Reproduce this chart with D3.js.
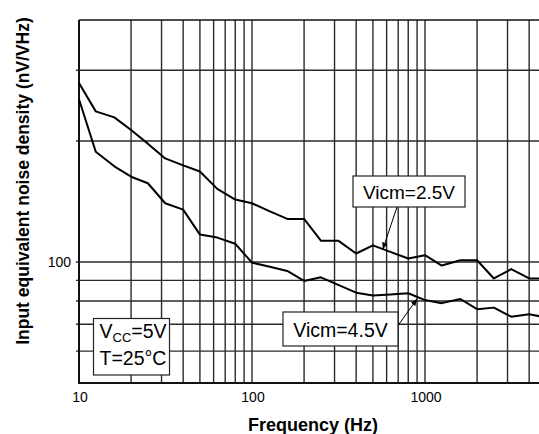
<!DOCTYPE html>
<html>
<head>
<meta charset="utf-8">
<script src="https://cdn.jsdelivr.net/npm/d3@7/dist/d3.min.js"></script>
<style>
  html, body { margin: 0; padding: 0; background: #fff; }
  svg { display: block; font-family: "Liberation Sans", Arial, sans-serif; }
</style>
</head>
<body>
<svg id="chart" width="539" height="434"></svg>
<script>
// 1/3-octave measurement frequencies (Hz)
var freqs = [10, 12.5, 16, 20, 25, 31.5, 40, 50, 63, 80, 100, 125, 160, 200, 250, 315,
             400, 500, 630, 800, 1000, 1250, 1600, 2000, 2500, 3150, 4000, 5000];

// noise density, nV/sqrt(Hz)
var vicm25 = [279, 237, 229, 213, 197, 181, 174, 168, 152, 143, 140, 134, 128, 128, 113, 113,
              105, 110, 106, 102, 104, 98, 101, 101, 91, 96, 91, 91];
var vicm45 = [254, 188, 173, 163, 157, 140, 135, 117, 115, 111, 99.6, 97.5, 95, 89.7, 91.6, 87.7,
              83.9, 82.5, 83, 83.6, 80.4, 79, 80.9, 76.3, 77, 73.1, 74.1, 72.8];

var xGrid = [20, 30, 40, 50, 60, 70, 80, 90, 100, 200, 300, 400, 500, 600, 700, 800, 900,
             1000, 2000, 3000, 4000, 5000, 6000, 7000, 8000, 9000];
var yGrid = [60, 70, 80, 90, 100, 200, 300];
var xTickLabels = [10, 100, 1000];
var yTickLabels = [100];

var svg = d3.select('#chart'),
    plot = { left: 79, top: 20, right: 598, bottom: 383 };

var x = d3.scaleLog().domain([10, 10000]).range([plot.left, plot.right]);
var y = d3.scaleLog().domain([50, 400]).range([plot.bottom, plot.top]);

var defs = svg.append('defs');
defs.append('marker')
    .attr('id', 'arrow')
    .attr('viewBox', '0 0 10 10')
    .attr('refX', 10).attr('refY', 5)
    .attr('markerWidth', 7).attr('markerHeight', 7)
    .attr('markerUnits', 'userSpaceOnUse')
    .attr('orient', 'auto')
    .append('path').attr('d', 'M0,1 L10,5 L0,9 Z').attr('fill', '#000');

// grid
var grid = svg.append('g').attr('stroke', '#2a2a2a').attr('stroke-width', 1.4);
grid.selectAll('line.v').data(xGrid).enter().append('line')
    .attr('x1', function (d) { return x(d); }).attr('x2', function (d) { return x(d); })
    .attr('y1', plot.top).attr('y2', plot.bottom);
grid.selectAll('line.h').data(yGrid).enter().append('line')
    .attr('x1', plot.left - 3).attr('x2', plot.right)
    .attr('y1', function (d) { return y(d); }).attr('y2', function (d) { return y(d); });

// frame
svg.append('line').attr('x1', plot.left).attr('x2', plot.right)
    .attr('y1', plot.top).attr('y2', plot.top).attr('stroke', '#111').attr('stroke-width', 1.5);
svg.append('line').attr('x1', plot.left).attr('x2', plot.left)
    .attr('y1', plot.top).attr('y2', plot.bottom + 1).attr('stroke', '#111').attr('stroke-width', 2);
svg.append('line').attr('x1', plot.left - 1).attr('x2', plot.right)
    .attr('y1', plot.bottom).attr('y2', plot.bottom).attr('stroke', '#111').attr('stroke-width', 2);

// tick labels
svg.selectAll('text.xt').data(xTickLabels).enter().append('text')
    .attr('x', function (d) { return x(d) + 1; })
    .attr('y', 402)
    .attr('text-anchor', 'middle')
    .attr('font-size', 14)
    .text(function (d) { return d; });
svg.selectAll('text.yt').data(yTickLabels).enter().append('text')
    .attr('x', 71)
    .attr('y', function (d) { return y(d) + 5; })
    .attr('text-anchor', 'end')
    .attr('font-size', 14)
    .text(function (d) { return d; });

// axis titles
svg.append('text')
    .attr('x', 313).attr('y', 431)
    .attr('text-anchor', 'middle')
    .attr('font-size', 18).attr('font-weight', 'bold')
    .text('Frequency (Hz)');
svg.append('text')
    .attr('transform', 'translate(29,181) rotate(-90)')
    .attr('text-anchor', 'middle')
    .attr('font-size', 17.5).attr('font-weight', 'bold')
    .text('Input equivalent noise density (nV/VHz)');

// curves
var line = d3.line()
    .x(function (d) { return x(d[0]); })
    .y(function (d) { return y(d[1]); });

[vicm25, vicm45].forEach(function (series) {
    svg.append('path')
        .datum(d3.zip(freqs, series))
        .attr('fill', 'none')
        .attr('stroke', '#000')
        .attr('stroke-width', 2)
        .attr('stroke-linejoin', 'round')
        .attr('d', line);
});

// annotations
function labelBox(bx, by, bw, bh) {
    svg.append('rect').attr('x', bx).attr('y', by).attr('width', bw).attr('height', bh)
        .attr('fill', '#fff').attr('stroke', '#222').attr('stroke-width', 1.2);
}

svg.append('line')
    .attr('x1', 397).attr('y1', 207)
    .attr('x2', x(570)).attr('y2', y(107.5))
    .attr('stroke', '#000').attr('stroke-width', 1)
    .attr('marker-end', 'url(#arrow)');
labelBox(353, 176, 112, 31);
svg.append('text').attr('x', 409).attr('y', 198.5).attr('text-anchor', 'middle')
    .attr('font-size', 19).text('Vicm=2.5V');

svg.append('line')
    .attr('x1', 397).attr('y1', 327)
    .attr('x2', x(900)).attr('y2', y(81))
    .attr('stroke', '#000').attr('stroke-width', 1)
    .attr('marker-end', 'url(#arrow)');
labelBox(283, 312, 115, 34);
svg.append('text').attr('x', 340.5).attr('y', 336.5).attr('text-anchor', 'middle')
    .attr('font-size', 19.5).text('Vicm=4.5V');

labelBox(93.5, 318.5, 76, 56.5);
var t1 = svg.append('text').attr('x', 99.5).attr('y', 337.5).attr('font-size', 19.5);
t1.append('tspan').text('V');
t1.append('tspan').attr('font-size', 13).attr('dy', 4).text('CC');
t1.append('tspan').attr('dy', -4).text('=5V');
svg.append('text').attr('x', 99.5).attr('y', 365).attr('font-size', 19.5).text('T=25\u00B0C');
</script>
</body>
</html>
